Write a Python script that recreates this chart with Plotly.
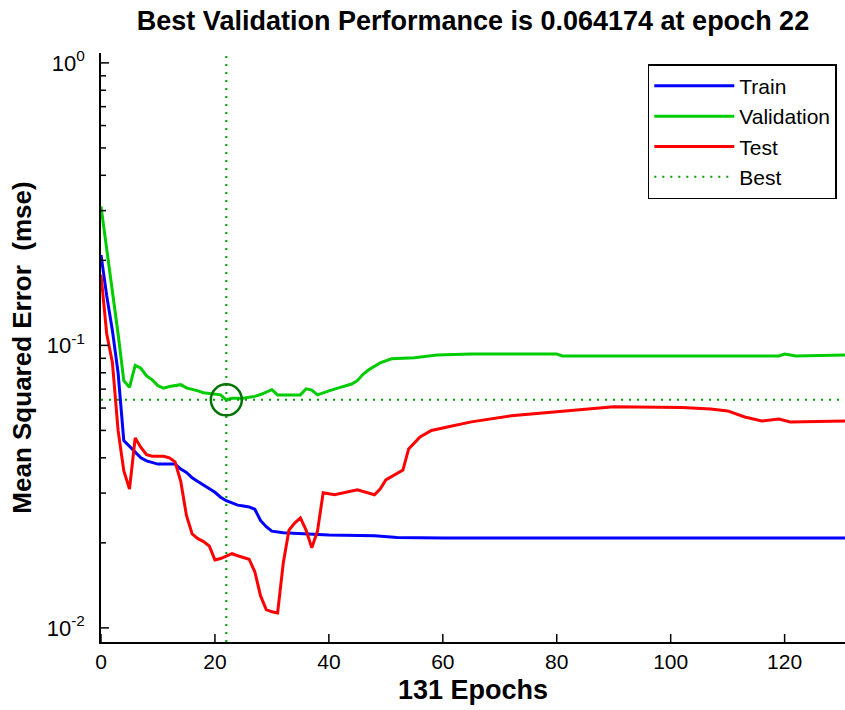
import plotly.graph_objects as go

# ---- data ----
train_epochs = [0, 1, 2, 3, 4, 5, 6, 7, 8, 9, 10, 13, 14, 15, 16, 17, 18, 19, 20, 21, 22, 23, 24, 25, 26, 27, 28, 29, 30, 32, 35, 40, 48, 52, 60, 131]
train_mse = [0.209, 0.15, 0.113, 0.08, 0.046, 0.044, 0.042, 0.040, 0.039, 0.0385, 0.038, 0.038, 0.0365, 0.0355, 0.034, 0.033, 0.032, 0.031, 0.0302, 0.029, 0.0282, 0.0277, 0.0272, 0.027, 0.0268, 0.0263, 0.024, 0.0228, 0.022, 0.0217, 0.0215, 0.0213, 0.0212, 0.0209, 0.0208, 0.0208]

val_epochs = [0, 1, 2, 3, 4, 5, 6, 7, 8, 9, 10, 11, 12, 13, 14, 15, 16, 17, 18, 19, 20, 21, 22, 23, 24, 25, 26, 27, 28, 29, 30, 31, 35, 36, 37, 38, 39, 40, 42, 44, 45, 46, 47, 49, 51, 55, 59, 65, 80, 81, 119, 120, 122, 131]
val_mse = [0.31, 0.22, 0.16, 0.11, 0.075, 0.071, 0.085, 0.083, 0.078, 0.0755, 0.072, 0.0705, 0.0715, 0.072, 0.0726, 0.0707, 0.070, 0.069, 0.068, 0.0675, 0.067, 0.0668, 0.064174, 0.065, 0.065, 0.065, 0.0655, 0.066, 0.067, 0.0685, 0.0697, 0.0668, 0.0668, 0.0702, 0.0695, 0.0668, 0.068, 0.069, 0.071, 0.073, 0.075, 0.079, 0.082, 0.0867, 0.0897, 0.0905, 0.0925, 0.0932, 0.0932, 0.0918, 0.0918, 0.0932, 0.0918, 0.0925]

test_epochs = [0, 1, 2, 3, 4, 5, 6, 7, 8, 9, 11, 12, 13, 14, 15, 16, 17, 18, 19, 20, 21, 22, 23, 24, 25, 26, 27, 28, 29, 30, 31, 32, 33, 34, 35, 36, 37, 38, 39, 41, 45, 48, 49, 50, 53, 54, 56, 58, 61, 65, 72, 78, 85, 90, 102, 107, 110, 113, 116, 119, 121, 131]
test_mse = [0.178, 0.11, 0.087, 0.050, 0.036, 0.031, 0.047, 0.0435, 0.041, 0.0405, 0.0405, 0.040, 0.0387, 0.033, 0.025, 0.0215, 0.0207, 0.0202, 0.0195, 0.0174, 0.0176, 0.018, 0.0183, 0.018, 0.0178, 0.0175, 0.0158, 0.013, 0.0116, 0.0114, 0.0113, 0.017, 0.0222, 0.0235, 0.0245, 0.0222, 0.0192, 0.022, 0.0301, 0.0296, 0.0308, 0.0296, 0.031, 0.0334, 0.0362, 0.043, 0.0474, 0.050, 0.0515, 0.0536, 0.0563, 0.0577, 0.0591, 0.0606, 0.0603, 0.0595, 0.0586, 0.0558, 0.054, 0.0549, 0.0536, 0.054]

best_epoch = 22
best_perf = 0.064174
num_epochs = 131

x_ticks = [0, 20, 40, 60, 80, 100, 120]
y_ticks = [0.01, 0.1, 1]
y_tick_labels = ["10<sup>-2</sup>", "10<sup>-1</sup>", "10<sup>0</sup>"]
y_minor = [m * d for d in (0.01, 0.1) for m in range(2, 10)]

# ---- styling ----
x_range = [0, 130.6]
y_range_log = [-2.05, 0.035]
ymin, ymax = 10 ** y_range_log[0], 10 ** y_range_log[1]
PLOT_W, PLOT_H = 744, 589  # plot area size in px (845-101, 710-53-68)

BLUE = "rgb(0,0,255)"
GREEN = "rgb(0,204,0)"
RED = "rgb(255,0,0)"
BEST = "rgb(0,160,0)"
CIRCLE = "rgb(0,115,0)"
TICKFONT = "Liberation Sans Narrow, Arial Narrow, Liberation Sans, Arial, sans-serif"
FONT = "Liberation Sans, Arial, Helvetica, sans-serif"

fig = go.Figure()
fig.add_trace(go.Scatter(x=train_epochs, y=train_mse, mode="lines", name="Train",
                         line=dict(color=BLUE, width=3)))
fig.add_trace(go.Scatter(x=val_epochs, y=val_mse, mode="lines", name="Validation",
                         line=dict(color=GREEN, width=3)))
fig.add_trace(go.Scatter(x=test_epochs, y=test_mse, mode="lines", name="Test",
                         line=dict(color=RED, width=3)))
fig.add_trace(go.Scatter(x=[best_epoch, best_epoch, None, 0, num_epochs],
                         y=[ymin, ymax, None, best_perf, best_perf],
                         mode="lines", name="Best",
                         line=dict(color=BEST, width=2, dash="2px,6px")))
fig.add_trace(go.Scatter(x=[best_epoch], y=[best_perf], mode="markers", showlegend=False,
                         marker=dict(symbol="circle-open", size=31, color=CIRCLE,
                                     line=dict(width=2.5, color=CIRCLE))))

# inside tick marks drawn as axis decorations
tick_style = dict(type="line", line=dict(color="black", width=1.5), layer="above")
for xv in x_ticks:
    fig.add_shape(xref="x", yref="paper", x0=xv, x1=xv, y0=0, y1=8 / PLOT_H, **tick_style)
for yv in y_ticks:
    fig.add_shape(xref="paper", yref="y", x0=0, x1=8 / PLOT_W, y0=yv, y1=yv, **tick_style)
for yv in y_minor:
    fig.add_shape(xref="paper", yref="y", x0=0, x1=5 / PLOT_W, y0=yv, y1=yv, **tick_style)

fig.update_layout(
    width=845, height=710,
    margin=dict(l=101, r=0, t=53, b=68),
    paper_bgcolor="white", plot_bgcolor="white",
    title=dict(text="<b>Best Validation Performance is 0.064174 at epoch 22</b>",
               x=0.5, xref="paper", xanchor="center",
               y=1 - 21 / 710, yref="container", yanchor="middle",
               font=dict(family=FONT, size=27, color="black")),
    legend=dict(x=0.989, y=0.981, xanchor="right", yanchor="top",
                bgcolor="white", bordercolor="black", borderwidth=1.5,
                font=dict(family=FONT, size=21, color="black"),
                itemwidth=80, tracegroupgap=0),
    showlegend=True,
    yaxis=dict(
        type="log", range=y_range_log, tickmode="array", tickvals=y_ticks, ticktext=y_tick_labels,
        ticks="", showline=True, linecolor="black", linewidth=1.5, showgrid=False, zeroline=False,
        tickfont=dict(family=TICKFONT, size=22, color="black"),
        ticklabelstandoff=10,
        title=dict(text="<b>Mean Squared Error  (mse)</b>", standoff=8,
                   font=dict(family=FONT, size=26, color="black")),
    ),
    xaxis=dict(
        range=x_range, tickmode="array", tickvals=x_ticks, ticks="",
        showline=True, linecolor="black", linewidth=1.5, showgrid=False, zeroline=False,
        tickfont=dict(family=TICKFONT, size=21, color="black"),
        title=dict(text="<b>131 Epochs</b>", standoff=8,
                   font=dict(family=FONT, size=27, color="black")),
    ),
)

fig.write_html("out.html")
